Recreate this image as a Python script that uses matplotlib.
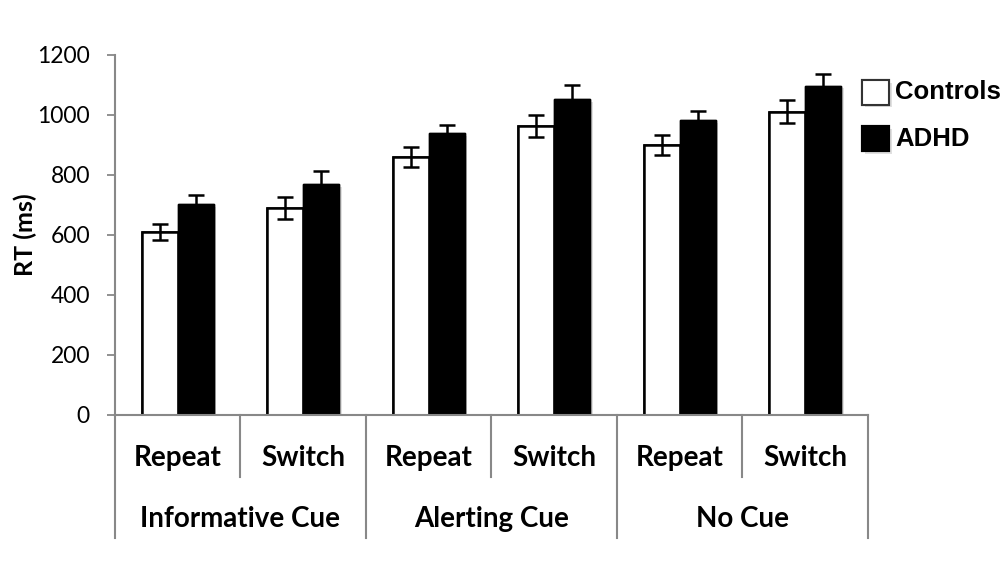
import matplotlib
matplotlib.use("Agg")
import matplotlib.pyplot as plt
import matplotlib.patheffects as pe
from matplotlib.patches import Rectangle
import numpy as np

conditions = ["Repeat", "Switch", "Repeat", "Switch", "Repeat", "Switch"]
cue_groups = ["Informative Cue", "Alerting Cue", "No Cue"]
controls = [609, 689, 861, 963, 899, 1011]
controls_err = [27, 37, 33, 37, 33, 38]
adhd = [703, 769, 939, 1054, 982, 1098]
adhd_err = [29, 44, 29, 47, 32, 40]
yticks = [0, 200, 400, 600, 800, 1000, 1200]

fig = plt.figure(figsize=(10.05, 5.62), dpi=100)
ax = fig.add_axes([0.1144, 0.2616, 0.749, 0.6406])

x = np.arange(len(conditions))
w = 0.287
shadow = [pe.withSimplePatchShadow(offset=(2, -2), shadow_rgbFace="#000000", alpha=0.12), pe.Normal()]
b1 = ax.bar(x - w / 2, controls, w, color="white", edgecolor="black", linewidth=1.8, zorder=2)
b2 = ax.bar(x + w / 2, adhd, w, color="black", edgecolor="black", linewidth=1.0, zorder=2)
for b in list(b1) + list(b2):
    b.set_path_effects(shadow)
ax.errorbar(x - w / 2, controls, yerr=controls_err, fmt="none", ecolor="black",
            elinewidth=1.8, capsize=6, capthick=1.8, zorder=3)
ax.errorbar(x + w / 2, adhd, yerr=adhd_err, fmt="none", ecolor="black",
            elinewidth=1.8, capsize=6, capthick=1.8, zorder=3)

ax.set_xlim(-0.5, len(conditions) - 0.5)
ax.set_ylim(0, 1200)
ax.set_yticks(yticks)
ax.set_yticklabels([str(v) for v in yticks], fontfamily="Lato", fontsize=16.5)
ax.tick_params(axis="y", direction="out", length=6, width=1.3, color="#888888", pad=12)
ax.set_xticks([])
for s in ["top", "right"]:
    ax.spines[s].set_visible(False)
for s in ["left", "bottom"]:
    ax.spines[s].set_color("#888888")
    ax.spines[s].set_linewidth(1.5)

ax.set_ylabel("RT (ms)", fontfamily="Lato", fontweight="bold", fontsize=18)
ax.yaxis.set_label_coords(-0.104, 0.5)

trans = ax.get_xaxis_transform()
# dividers
for i in range(len(conditions) + 1):
    xb = i - 0.5
    low = -0.342 if i % 2 == 0 else -0.172
    ax.plot([xb, xb], [0, low], transform=trans, color="#888888", lw=1.5, clip_on=False)
for i, c in enumerate(conditions):
    ax.text(i, -0.119, c, transform=trans, ha="center", va="center",
            fontfamily="Lato", fontweight="bold", fontsize=20)
for g, name in enumerate(cue_groups):
    ax.text(2 * g + 0.5, -0.289, name, transform=trans, ha="center", va="center",
            fontfamily="Lato", fontweight="bold", fontsize=20)

# legend
labels = ["Controls", "ADHD"]
faces = ["white", "black"]
ys = [0.836, 0.753]
for lab, fc, yy in zip(labels, faces, ys):
    r = Rectangle((0.858, yy - 0.022), 0.027, 0.044, transform=fig.transFigure,
                  facecolor=fc, edgecolor="#333333" if fc == "white" else "black", lw=1.5)
    r.set_path_effects(shadow)
    fig.add_artist(r)
    fig.text(0.891, yy, lab, ha="left", va="center", fontfamily="Liberation Sans",
             fontweight="bold", fontsize=18.5)

fig.savefig("out.png", dpi=100, facecolor="white")
